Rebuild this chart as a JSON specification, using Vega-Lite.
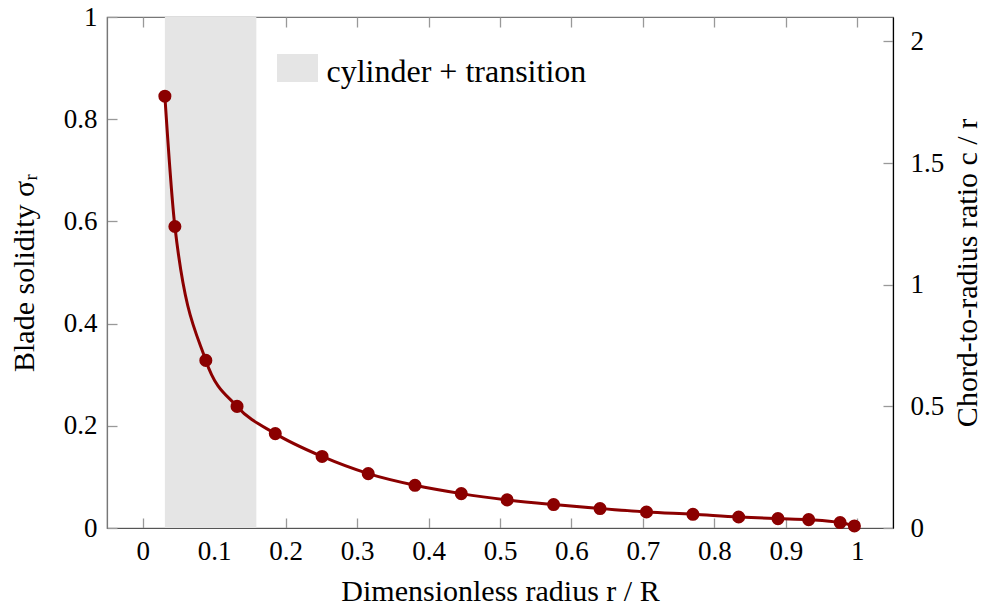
{
  "$schema": "https://vega.github.io/schema/vega-lite/v6.json",
  "width": 786,
  "height": 511,
  "autosize": {"type": "none"},
  "padding": {"left": 107, "top": 17, "right": 92, "bottom": 82},
  "background": "white",
  "config": {
    "view": {"stroke": "#777777", "strokeWidth": 1.2},
    "font": "Liberation Serif",
    "axis": {
      "labelFont": "Liberation Serif",
      "titleFont": "Liberation Serif",
      "labelFontSize": 27,
      "titleFontSize": 30,
      "labelColor": "black",
      "titleColor": "black",
      "titleFontWeight": "normal",
      "grid": false,
      "tickColor": "#999999",
      "tickWidth": 1.3,
      "tickSize": -10
    }
  },
  "datasets": {
    "shade": [{"r1": 0.031, "r2": 0.159, "zone": "cylinder + transition"}],
    "blade": [
      {"r": 0.031, "sigma": 0.845, "cr": 1.7745},
      {"r": 0.045, "sigma": 0.590, "cr": 1.239},
      {"r": 0.0883, "sigma": 0.328, "cr": 0.6888},
      {"r": 0.132, "sigma": 0.238, "cr": 0.4998},
      {"r": 0.1855, "sigma": 0.1847, "cr": 0.3879},
      {"r": 0.251, "sigma": 0.140, "cr": 0.294},
      {"r": 0.3156, "sigma": 0.1064, "cr": 0.2234},
      {"r": 0.381, "sigma": 0.0836, "cr": 0.1756},
      {"r": 0.4458, "sigma": 0.0673, "cr": 0.1413},
      {"r": 0.51, "sigma": 0.055, "cr": 0.1155},
      {"r": 0.575, "sigma": 0.0458, "cr": 0.0962},
      {"r": 0.640, "sigma": 0.038, "cr": 0.0798},
      {"r": 0.705, "sigma": 0.0313, "cr": 0.0657},
      {"r": 0.770, "sigma": 0.0268, "cr": 0.0563},
      {"r": 0.834, "sigma": 0.0215, "cr": 0.0452},
      {"r": 0.889, "sigma": 0.0184, "cr": 0.0386},
      {"r": 0.932, "sigma": 0.0164, "cr": 0.0344},
      {"r": 0.976, "sigma": 0.0106, "cr": 0.0223},
      {"r": 0.996, "sigma": 0.004, "cr": 0.0084}
    ]
  },
  "layer": [
    {
      "data": {"name": "shade"},
      "mark": {"type": "rect", "opacity": 1},
      "encoding": {
        "x": {
          "field": "r1", "type": "quantitative",
          "scale": {"domain": [-0.05, 1.05], "nice": false, "zero": false},
          "axis": {
            "orient": "bottom",
            "title": "Dimensionless radius r / R",
            "values": [0, 0.1, 0.2, 0.3, 0.4, 0.5, 0.6, 0.7, 0.8, 0.9, 1],
            "format": "~g",
            "labelPadding": 20,
            "titlePadding": 12,
            "domainColor": "#555555",
            "domainWidth": 1.2
          }
        },
        "x2": {"field": "r2"},
        "color": {
          "field": "zone", "type": "nominal",
          "scale": {"range": ["#e5e5e5"]},
          "legend": {
            "title": null,
            "orient": "none",
            "legendX": 174.5,
            "legendY": 39,
            "padding": 0,
            "symbolType": "M-1.464,-1.286H1.464V0.714H-1.464Z",
            "symbolSize": 784,
            "symbolStrokeWidth": 0,
            "symbolOpacity": 1,
            "labelFont": "Liberation Serif",
            "labelFontSize": 32,
            "labelColor": "black",
            "labelOffset": 13,
            "labelLimit": 400
          }
        }
      }
    },
    {
      "data": {"name": "blade"},
      "mark": {"type": "line", "color": "#8b0000", "strokeWidth": 3, "interpolate": "monotone"},
      "encoding": {
        "x": {
          "field": "r", "type": "quantitative",
          "axis": {
            "orient": "top",
            "title": null,
            "labels": false,
            "domain": false,
            "values": [0, 0.1, 0.2, 0.3, 0.4, 0.5, 0.6, 0.7, 0.8, 0.9, 1]
          }
        },
        "y": {
          "field": "sigma", "type": "quantitative",
          "scale": {"domain": [0, 1], "nice": false},
          "axis": {
            "orient": "left",
            "title": "Blade solidity σᵣ",
            "values": [0, 0.2, 0.4, 0.6, 0.8, 1],
            "format": "~g",
            "labelPadding": 20,
            "titlePadding": 24,
            "domainColor": "#777777",
            "domainWidth": 1.2
          }
        }
      }
    },
    {
      "data": {"name": "blade"},
      "mark": {"type": "point", "filled": true, "color": "#8b0000", "size": 170, "opacity": 1},
      "encoding": {
        "x": {"field": "r", "type": "quantitative", "axis": null},
        "y": {
          "field": "cr", "type": "quantitative",
          "scale": {"domain": [0, 2.1], "nice": false},
          "axis": {
            "orient": "right",
            "title": "Chord-to-radius ratio c / r",
            "titleAngle": 270,
            "titleBaseline": "bottom",
            "values": [0, 0.5, 1, 1.5, 2],
            "format": "~g",
            "labelPadding": 27,
            "titlePadding": 39,
            "domainColor": "black",
            "domainWidth": 1.2
          }
        }
      }
    }
  ],
  "resolve": {"scale": {"y": "independent"}, "axis": {"x": "independent", "y": "independent"}}
}
